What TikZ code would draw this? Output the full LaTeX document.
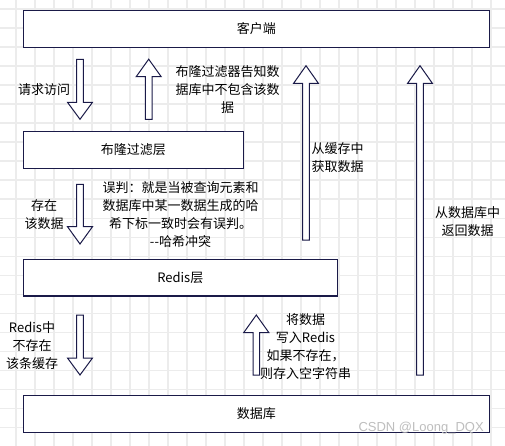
\documentclass[tikz,border=0pt]{standalone}
\usepackage{fontspec}
\setmainfont{Noto Sans CJK SC}
\newfontfamily\wmfont{Liberation Sans}
\definecolor{edge}{RGB}{26,26,72}
\definecolor{gridc}{RGB}{236,236,236}
\definecolor{wmc}{RGB}{190,190,190}
\newcommand\hollowarrow[4]{% x, y tail, y head base, y tip
  \draw[blockarrow] (#1-3.3,#2) -- (#1-3.3,#3) -- (#1-12.5,#3) -- (#1,#4)
    -- (#1+12.5,#3) -- (#1+3.3,#3) -- (#1+3.3,#2) -- cycle;}
\tikzset{
  gridline/.style={draw=gridc, line width=1.6pt},
  box/.style={draw=edge, fill=white, line width=1.2pt, inner sep=0pt,
    font=\fontsize{13}{18}\selectfont},
  blockarrow/.style={draw=edge, fill=white, line width=1pt, line join=miter},
  lbl/.style={inner sep=0pt, align=center, font=\fontsize{13}{18}\selectfont},
}
\begin{document}
\begin{tikzpicture}[x=1pt, y=-1pt]
\useasboundingbox (0,0) rectangle (505,446);
\fill[white] (0,0) rectangle (505,446);
% grid
\foreach \i in {-1,...,25} \draw[gridline] (16+19*\i,0) -- (16+19*\i,446);
\foreach \j in {0,...,23} \draw[gridline] (0,9.3+19*\j) -- (505,9.3+19*\j);
% boxes
\node[box, minimum width=466, minimum height=36.6] (client) at (256.3,29) {客户端};
\node[box, minimum width=220, minimum height=36.6] (bloom) at (133.3,150) {布隆过滤层};
\node[box, minimum width=314, minimum height=36.6] (redis) at (180.3,277.7) {Redis层};
\node[box, minimum width=466, minimum height=36.6] (db) at (256.3,414) {数据库};
% block arrows
\hollowarrow{80}{59.3}{102.3}{119.3}
\hollowarrow{148.7}{119.3}{76.7}{59.2}
\hollowarrow{306}{240}{83.5}{65.7}
\hollowarrow{420}{375}{83.5}{65.7}
\hollowarrow{80}{184.3}{226.7}{244}
\hollowarrow{80}{315}{358}{375}
\hollowarrow{256.3}{375}{332.5}{315}
% labels
\node[lbl] (t1) at (44,90) {请求访问};
\node[lbl] (t2) at (227.5,90) {布隆过滤器告知数\\据库中不包含该数\\据};
\node[lbl] (t3) at (337.5,158) {从缓存中\\获取数据};
\node[lbl] (t4) at (44,214.2) {存在\\该数据};
\node[lbl] (t5) at (180.5,214.7) {误判：就是当被查询元素和\\数据库中某一数据生成的哈\\希下标一致时会有误判。\\-{}-哈希冲突};
\node[lbl] (t6) at (467.5,221.5) {从数据库中\\返回数据};
\node[lbl] (t7) at (32,345.9) {Redis中\\不存在\\该条缓存};
\node[lbl] (t8) at (305.5,346.3) {将数据\\写入Redis\\如果不存在，\\则存入空字符串};
\node[inner sep=0pt, anchor=west, text=wmc, font=\wmfont\fontsize{13}{15}\selectfont] (wm) at (358.3,428.3) {CSDN @Loong\_DQX};
\end{tikzpicture}
\end{document}
